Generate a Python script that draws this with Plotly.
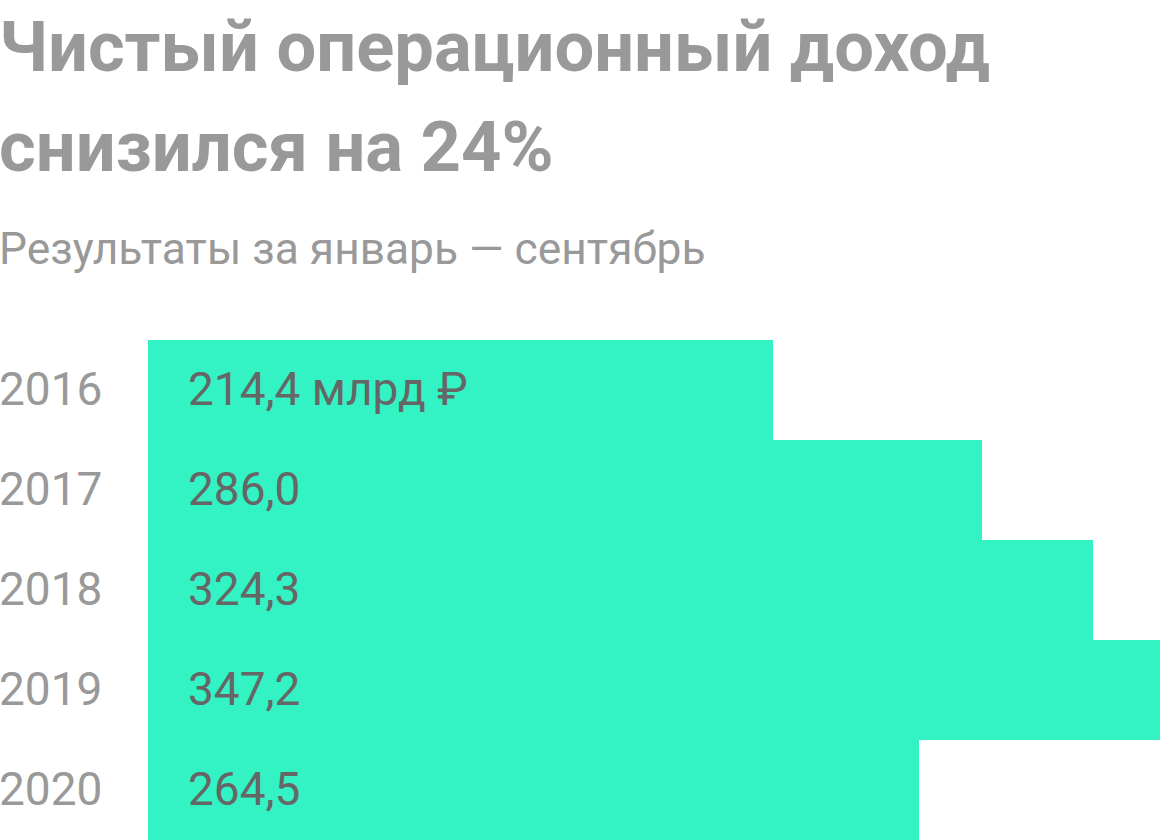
import plotly.graph_objects as go

# данные
years = ['2016', '2017', '2018', '2019', '2020']
values = [214.4, 286.0, 324.3, 347.2, 264.5]
value_labels = ['214,4 млрд ₽', '286,0', '324,3', '347,2', '264,5']

title_lines = ['Чистый операционный доход', 'снизился на 24%']
subtitle = 'Результаты за январь — сентябрь'

W, H = 1160, 840
bar_color = '#33f3c4'
pos = list(range(len(years)))

def py(p):
    # пиксели сверху -> координаты paper
    return 1 - p / H

fig = go.Figure()
fig.add_trace(go.Bar(
    x=values, y=pos, orientation='h', width=1,
    marker=dict(color=bar_color, line=dict(width=0)),
    hoverinfo='skip',
))

ann = []
for i, line in enumerate(title_lines):
    ann.append(dict(text='<b>' + line + '</b>', xref='paper', yref='paper',
                    x=0, y=py(47 + 100 * i), xanchor='left', yanchor='middle', xshift=-3,
                    showarrow=False, font=dict(family='Roboto', size=70.5, color='#999999')))
ann.append(dict(text=subtitle, xref='paper', yref='paper', x=0, y=py(249),
                xanchor='left', yanchor='middle', showarrow=False, xshift=-3,
                font=dict(family='Roboto', size=44.3, color='#999999')))

for i, (yr, lab) in enumerate(zip(years, value_labels)):
    ann.append(dict(text=yr, xref='paper', yref='y', x=0, y=i, xshift=-3, yshift=1,
                    xanchor='left', yanchor='middle', showarrow=False,
                    font=dict(family='Roboto', size=46, color='#999999')))
    ann.append(dict(text=lab, xref='x', yref='y', x=0, y=i, xshift=38, yshift=1,
                    xanchor='left', yanchor='middle', showarrow=False,
                    font=dict(family='Roboto', size=46, color='#666666')))

fig.update_layout(
    width=W, height=H,
    margin=dict(l=0, r=0, t=0, b=0),
    paper_bgcolor='white', plot_bgcolor='white',
    showlegend=False,
    bargap=0,
    annotations=ann,
    xaxis=dict(domain=[148 / W, 1], range=[0, max(values)], visible=False, fixedrange=True),
    yaxis=dict(domain=[0, 500 / H], range=[len(years) - 0.5, -0.5],
               visible=False, fixedrange=True),
)

fig.write_html('out.html', config={'displayModeBar': False},
               post_script="document.body.style.margin='0';")
